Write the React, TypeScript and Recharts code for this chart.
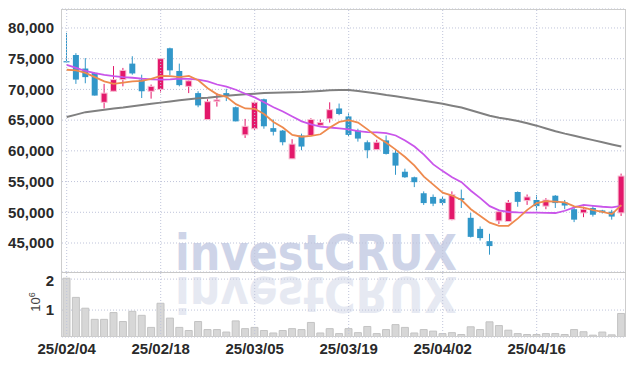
import React from 'react';
import { ComposedChart, Bar, Line, XAxis, YAxis, CartesianGrid, ReferenceLine } from 'recharts';

const dates = [
  '25/02/04','25/02/05','25/02/06','25/02/07','25/02/10','25/02/11','25/02/12','25/02/13','25/02/14','25/02/17',
  '25/02/18','25/02/19','25/02/20','25/02/21','25/02/24','25/02/25','25/02/26','25/02/27','25/02/28','25/03/04',
  '25/03/05','25/03/06','25/03/07','25/03/10','25/03/11','25/03/12','25/03/13','25/03/14','25/03/17','25/03/18',
  '25/03/19','25/03/20','25/03/21','25/03/24','25/03/25','25/03/26','25/03/27','25/03/28','25/03/31','25/04/01',
  '25/04/02','25/04/03','25/04/04','25/04/07','25/04/08','25/04/09','25/04/10','25/04/11','25/04/14','25/04/15',
  '25/04/16','25/04/17','25/04/18','25/04/21','25/04/22','25/04/23','25/04/24','25/04/25','25/04/28','25/04/29',
];

const opens = [
  74600,75600,73400,72700,67900,69700,71600,74200,71600,69700,
  70000,76700,73000,70500,69400,65100,68050,69400,67100,62600,
  63600,68400,63700,63300,58700,62500,62500,64150,65200,66900,
  65600,63300,61400,60200,61700,59700,56600,55700,53100,52500,
  52200,48800,52300,49100,47300,45300,48600,48500,53300,51900,
  52000,51000,52700,51600,50500,49900,50700,50300,50100,49900,
];
const highs = [
  79200,75900,75100,72800,70900,73800,73500,75400,72400,70800,
  75100,76800,74200,71500,69700,68400,69400,70100,67200,65200,
  68000,68500,65100,63400,61900,62800,65300,65100,67900,67700,
  66100,63600,61700,61800,62500,60200,57100,55800,53400,52900,
  52600,53400,53700,49900,47700,46500,50400,52000,53400,52900,
  52800,52300,52800,52000,51000,50900,51000,50400,50400,56300,
];
const lows = [
  74400,70900,71000,69000,66900,69700,70500,72400,68600,68500,
  69500,72300,70500,69400,67100,65100,67200,68100,64800,62100,
  63400,63600,62500,60900,58700,60100,62500,63900,64600,65800,
  62400,61500,58800,60200,59400,56100,55600,54100,51200,51000,
  51200,48700,50700,45900,45400,43100,48100,48500,50900,51200,
  50300,50500,50700,50500,48400,49200,49300,49800,48800,49400,
];
const closes = [
  74550,71600,72000,69000,69400,71600,73100,72600,69700,70500,
  75000,73100,70700,71400,67400,68000,68300,69000,64800,64000,
  67900,64000,63100,61400,61100,60700,65100,64600,66700,66000,
  62600,62000,60100,61400,59500,57600,55700,54900,51500,51400,
  51500,52900,52000,46000,45800,44500,50100,51600,51700,52500,
  51000,52000,51500,51100,48800,50500,49600,50000,49300,55900,
];
const volumes = [
  2030000,1410000,1060000,700000,700000,920000,630000,960000,830000,440000,
  1220000,740000,440000,340000,630000,370000,370000,290000,650000,400000,
  440000,340000,260000,340000,400000,370000,600000,260000,400000,240000,
  400000,270000,470000,240000,370000,530000,440000,260000,370000,320000,
  240000,270000,210000,460000,370000,620000,500000,350000,240000,210000,
  210000,240000,240000,210000,370000,300000,190000,290000,200000,890000,
];
const ma5 = [
  73200,73100,72700,72000,71300,70900,71100,71300,71400,71700,
  72200,72150,72000,72200,71500,70200,69200,68800,67600,66900,
  66850,66000,64700,63800,62600,62300,62450,62700,63800,64700,
  65000,64600,63500,62300,61300,60200,59000,57600,55800,54500,
  53200,52700,52000,50500,49400,48300,47800,47800,49000,50400,
  51500,51800,51750,51600,50950,50750,50350,50050,49700,51150,
];
const ma20 = [
  74000,73500,73000,72650,72350,72150,72000,71900,71750,71650,
  71600,71650,71750,71700,71600,71300,70800,70450,69950,69300,
  68700,67900,67100,66400,65600,64800,64300,63950,63800,63650,
  63500,63200,63050,63000,62900,62500,61700,60700,59400,57800,
  56700,55700,54900,53500,52300,51000,50300,50050,49980,49950,
  49950,49920,49880,50250,50800,51200,51050,50900,50800,51050,
];
const ma60 = [
  65500,65900,66300,66500,66700,66900,67050,67250,67450,67650,
  67850,68050,68250,68400,68550,68650,68800,68950,69100,69200,
  69300,69400,69450,69500,69550,69580,69650,69750,69850,69900,
  69900,69750,69550,69350,69100,68900,68650,68400,68150,67900,
  67650,67350,67050,66600,66150,65700,65400,65150,64850,64500,
  64100,63650,63200,62800,62450,62100,61750,61400,61050,60700,
];

const tickDates = ['25/02/04', '25/02/18', '25/03/05', '25/03/19', '25/04/02', '25/04/16'];
const priceTicks = [45000, 50000, 55000, 60000, 65000, 70000, 75000, 80000];
const volumeTicks = [1000000, 2000000];

const rows = dates.map((date, i) => ({
  date,
  open: opens[i],
  high: highs[i],
  low: lows[i],
  close: closes[i],
  volume: volumes[i],
  ma5: ma5[i],
  ma20: ma20[i],
  ma60: ma60[i],
}));

const UP = '#e3186b';
const DOWN = '#3297c9';
const GRID = '#bfc4da';
const TICK = { fontFamily: '"Liberation Sans Narrow", "Liberation Sans", sans-serif', fontSize: 15, fill: '#2a2a2a', fontWeight: 'bold' as const };

const Candle = (props: any) => {
  const { x, y, width, height, payload } = props;
  if (!payload || x == null) return null;
  const { open, close, high, low } = payload;
  const top = Math.min(y, y + height);
  const h = Math.abs(height);
  const ratio = h / (high - low || 1);
  const yOf = (v: number) => top + (high - v) * ratio;
  const cx = x + width / 2;
  const up = close > open;
  const color = up ? UP : DOWN;
  const bTop = yOf(Math.max(open, close));
  const bBot = yOf(Math.min(open, close));
  const bw = 6;
  return (
    <g>
      <line x1={cx} x2={cx} y1={top} y2={top + h} stroke={color} strokeWidth={1} />
      <rect
        x={cx - bw / 2}
        y={bTop}
        width={bw}
        height={Math.max(1.2, bBot - bTop)}
        fill={color}
        stroke={up ? '#f7bfd3' : 'none'}
        strokeWidth={up ? 1 : 0}
      />
    </g>
  );
};

export default function App() {
  return (
    <div style={{ position: 'absolute', left: 0, top: 0, width: 634, height: 366, background: '#fff' }}>
      <svg width={634} height={366} style={{ position: 'absolute', left: 0, top: 0 }}>
        <text
          x={175}
          y={270}
          textLength={282}
          lengthAdjust="spacingAndGlyphs"
          fontFamily='"DejaVu Sans", sans-serif'
          fontWeight="bold"
          fontSize={50}
          fill="#ced4e8"
        >
          investCRUX
        </text>
        <text
          x={175}
          y={270}
          textLength={282}
          lengthAdjust="spacingAndGlyphs"
          fontFamily='"DejaVu Sans", sans-serif'
          fontWeight="bold"
          fontSize={50}
          fill="#e6e9f2"
          transform="translate(0,547) scale(1,-1)"
        >
          investCRUX
        </text>
      </svg>
      <div style={{ position: 'absolute', left: 0, top: 0 }}>
        <ComposedChart width={634} height={272} data={rows} margin={{ top: 9, right: 8, left: 0, bottom: 0 }} barCategoryGap={0}>
          <CartesianGrid vertical={false} stroke={GRID} strokeDasharray="1 2" />
          <XAxis dataKey="date" hide />
          <YAxis
            type="number"
            width={62}
            domain={[40280, 83090]}
            ticks={priceTicks}
            allowDataOverflow
            axisLine={false}
            tickLine={false}
            tick={TICK}
            tickFormatter={(v: number) => v.toLocaleString('en-US')}
          />
          {tickDates.map((d) => (
            <ReferenceLine key={d} x={d} stroke={GRID} strokeDasharray="1 2" />
          ))}
          <Bar dataKey={(d: any) => [d.low, d.high]} shape={<Candle />} isAnimationActive={false} />
          <Line type="linear" dataKey="ma60" stroke="#808080" strokeWidth={2} dot={false} activeDot={false} isAnimationActive={false} />
          <Line type="linear" dataKey="ma20" stroke="#c955ea" strokeWidth={1.8} dot={false} activeDot={false} isAnimationActive={false} />
          <Line type="linear" dataKey="ma5" stroke="#ee8a4e" strokeWidth={1.8} dot={false} activeDot={false} isAnimationActive={false} />
        </ComposedChart>
      </div>
      <div style={{ position: 'absolute', left: 0, top: 272 }}>
        <ComposedChart width={634} height={94} data={rows} margin={{ top: 0, right: 8, left: 0, bottom: 0 }} barCategoryGap={1}>
          <CartesianGrid vertical={false} stroke={GRID} strokeDasharray="1 2" />
          <XAxis
            dataKey="date"
            ticks={tickDates}
            interval={0}
            height={29}
            axisLine={false}
            tickLine={false}
            tickSize={0}
            tickMargin={6}
            tick={TICK}
          />
          <YAxis
            type="number"
            width={62}
            domain={[130000, 2230000]}
            ticks={volumeTicks}
            allowDataOverflow
            axisLine={false}
            tickLine={false}
            tick={TICK}
            tickFormatter={(v: number) => String(v / 1000000)}
          />
          {tickDates.map((d) => (
            <ReferenceLine key={d} x={d} stroke={GRID} strokeDasharray="1 2" />
          ))}
          <Bar dataKey="volume" fill="#d7d7d7" stroke="#c3c3c3" strokeWidth={1} isAnimationActive={false} />
        </ComposedChart>
      </div>
      <svg width={634} height={366} style={{ position: 'absolute', left: 0, top: 0, pointerEvents: 'none' }}>
        <rect x={61.5} y={9.5} width={564} height={327} fill="none" stroke="#cdcdcd" strokeWidth={1} />
        <line x1={62} x2={626} y1={272.5} y2={272.5} stroke="#c8c8c8" strokeWidth={1} />
        <text
          x={40}
          y={302}
          transform="rotate(-90, 40, 302)"
          textAnchor="middle"
          fontFamily='"Liberation Sans Narrow", "Liberation Sans", sans-serif'
          fontSize={13}
          fill="#444"
        >
          10<tspan dy={-5} fontSize={9}>6</tspan>
        </text>
      </svg>
    </div>
  );
}
